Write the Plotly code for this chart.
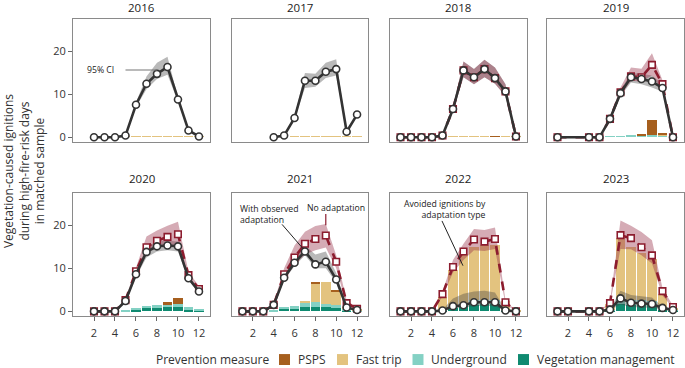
import plotly.graph_objects as go

W, H = 685, 368
FONT = "Open Sans"

# ---------------- data ----------------
years = [2016, 2017, 2018, 2019, 2020, 2021, 2022, 2023]
month_ticks = [2, 4, 6, 8, 10, 12]

# 2016
months_2016 = [2, 3, 4, 5, 6, 7, 8, 9, 10, 11, 12]
obs_2016 = [0, 0, 0, 0.4, 7.6, 12.5, 14.8, 16.4, 8.8, 1.6, 0.2]
obs_hi_2016 = [0, 0, 0, 0.5, 8.2, 14.2, 17.4, 18.8, 9.3, 1.8, 0.3]
obs_lo_2016 = [0, 0, 0, 0.3, 7.0, 11.2, 13.6, 14.6, 8.3, 1.4, 0.1]
bar_months_2016 = [5, 6, 7, 8, 9, 10, 11, 12]
veg_2016 = [0, 0, 0, 0, 0, 0, 0, 0]
ug_2016 = [0, 0, 0, 0, 0, 0, 0, 0]
fast_2016 = [0.12, 0.12, 0.12, 0.12, 0.12, 0.12, 0.12, 0.12]
psps_2016 = [0, 0, 0, 0, 0, 0, 0, 0]

# 2017
months_2017 = [4, 5, 6, 7, 8, 9, 10, 11, 12]
obs_2017 = [0, 0.4, 4.5, 13.2, 13.2, 15.3, 15.9, 1.3, 5.3]
obs_hi_2017 = [0, 0.5, 4.8, 15.0, 14.8, 17.4, 18.2, 1.5, 5.6]
obs_lo_2017 = [0, 0.3, 4.2, 11.5, 11.8, 13.8, 14.4, 1.1, 5.0]
bar_months_2017 = [6, 7, 8, 9, 10, 11, 12]
veg_2017 = [0, 0, 0, 0, 0, 0, 0]
ug_2017 = [0, 0, 0, 0, 0, 0, 0]
fast_2017 = [0.12, 0.12, 0.12, 0.12, 0.12, 0.12, 0.12]
psps_2017 = [0, 0, 0, 0, 0, 0, 0]

# 2018
months_2018 = [1, 2, 3, 4, 5, 6, 7, 8, 9, 10, 11, 12]
obs_2018 = [0, 0, 0, 0, 0.4, 6.6, 15.6, 14.0, 15.9, 13.8, 10.7, 0.2]
obs_hi_2018 = [0, 0, 0, 0, 0.5, 7.2, 17.7, 15.9, 18.1, 16.3, 12.4, 0.3]
obs_lo_2018 = [0, 0, 0, 0, 0.3, 6.0, 14.0, 12.4, 14.0, 12.5, 9.6, 0.1]
noad_2018 = [0, 0, 0, 0, 0.4, 6.6, 15.6, 14.0, 15.9, 13.8, 10.7, 0.2]
noad_hi_2018 = [0, 0, 0, 0, 0.5, 7.2, 17.7, 15.9, 18.1, 16.3, 12.4, 0.3]
noad_lo_2018 = [0, 0, 0, 0, 0.3, 6.0, 14.0, 12.4, 14.0, 12.5, 9.6, 0.1]
bar_months_2018 = [6, 7, 8, 9, 10, 11, 12]
veg_2018 = [0, 0, 0, 0, 0, 0, 0]
ug_2018 = [0, 0, 0, 0, 0, 0, 0]
fast_2018 = [0.12, 0.12, 0.12, 0.12, 0, 0.12, 0.12]
psps_2018 = [0, 0, 0, 0, 0.15, 0, 0]

# 2019
months_2019 = [1, 4, 5, 6, 7, 8, 9, 10, 11, 12]
obs_2019 = [0, 0, 0, 4.3, 10.3, 14.0, 13.6, 13.0, 11.5, 0]
obs_hi_2019 = [0, 0, 0, 4.6, 11.0, 15.0, 14.8, 14.4, 12.4, 0]
obs_lo_2019 = [0, 0, 0, 4.0, 9.6, 12.8, 12.4, 11.6, 10.6, 0]
noad_2019 = [0, 0, 0, 4.3, 10.5, 14.2, 14.0, 16.9, 12.4, 0]
noad_hi_2019 = [0, 0, 0, 4.7, 11.6, 16.3, 16.0, 19.6, 13.3, 0]
noad_lo_2019 = [0, 0, 0, 4.0, 9.8, 13.2, 13.0, 14.4, 10.8, 0]
bar_months_2019 = [6, 7, 8, 9, 10, 11]
veg_2019 = [0, 0.05, 0.05, 0.1, 0.15, 0.1]
ug_2019 = [0.1, 0.15, 0.2, 0.25, 0.45, 0.3]
fast_2019 = [0, 0, 0, 0, 0, 0.05]
psps_2019 = [0, 0, 0, 0.15, 3.4, 0.25]

# 2020
months_2020 = [2, 3, 4, 5, 6, 7, 8, 9, 10, 11, 12]
obs_2020 = [0, 0, 0, 2.4, 8.6, 13.8, 15.1, 15.3, 15.1, 7.7, 4.6]
obs_hi_2020 = [0, 0, 0, 2.7, 9.2, 14.8, 16.3, 16.4, 16.2, 8.2, 5.0]
obs_lo_2020 = [0, 0, 0, 2.1, 8.0, 12.5, 13.9, 14.2, 13.9, 7.2, 4.2]
noad_2020 = [0, 0, 0, 2.6, 9.3, 14.9, 16.4, 17.3, 17.9, 8.4, 5.2]
noad_hi_2020 = [0, 0, 0, 2.9, 10.0, 17.4, 18.8, 19.9, 20.8, 9.2, 5.8]
noad_lo_2020 = [0, 0, 0, 2.3, 8.6, 13.6, 14.9, 15.5, 15.3, 7.6, 4.6]
bar_months_2020 = [5, 6, 7, 8, 9, 10, 11, 12]
veg_2020 = [0.05, 0.4, 0.7, 0.8, 1.1, 1.05, 0.4, 0.3]
ug_2020 = [0.15, 0.35, 0.6, 0.7, 0.4, 0.7, 0.5, 0.3]
fast_2020 = [0, 0, 0, 0, 0, 0, 0, 0]
psps_2020 = [0, 0, 0, 0, 0.6, 1.3, 0, 0]

# 2021
months_2021 = [1, 2, 3, 4, 5, 6, 7, 8, 9, 10, 11, 12]
obs_2021 = [0, 0, 0, 1.5, 7.8, 11.3, 13.9, 10.9, 11.5, 7.4, 0.9, 0.3]
obs_hi_2021 = [0, 0, 0, 1.7, 8.3, 12.3, 15.3, 13.2, 13.9, 8.9, 1.1, 0.4]
obs_lo_2021 = [0, 0, 0, 1.3, 7.3, 10.5, 13.0, 10.0, 10.0, 6.7, 0.7, 0.2]
noad_2021 = [0, 0, 0, 1.5, 8.6, 12.5, 15.7, 16.8, 17.6, 11.5, 1.9, 0.6]
noad_hi_2021 = [0, 0, 0, 1.9, 10.0, 15.3, 18.5, 19.8, 20.3, 13.0, 2.5, 0.9]
noad_lo_2021 = [0, 0, 0, 1.3, 7.2, 10.8, 13.2, 14.2, 14.8, 10.0, 1.4, 0.4]
bar_months_2021 = [4, 5, 6, 7, 8, 9, 10, 11, 12]
veg_2021 = [0.05, 0.5, 0.6, 0.9, 0.9, 0.9, 0.7, 0.2, 0]
ug_2021 = [0.1, 0.5, 0.7, 1.1, 1.2, 0.8, 0.7, 0.4, 0.1]
fast_2021 = [0, 0, 0, 0.4, 4.3, 5.2, 3.3, 0.2, 0.3]
psps_2021 = [0, 0, 0, 0, 0.3, 0, 0.2, 0, 0]

# 2022
months_2022 = [1, 2, 3, 4, 5, 6, 7, 8, 9, 10, 11, 12]
obs_2022 = [0, 0, 0, 0, 0.2, 1.2, 1.4, 2.1, 2.1, 2.1, 0.2, 0]
obs_hi_2022 = [0, 0, 0, 0, 0.4, 3.0, 4.1, 4.6, 4.8, 4.4, 0.4, 0]
obs_lo_2022 = [0, 0, 0, 0, 0.1, 0.6, 0.9, 1.2, 1.3, 1.2, 0.1, 0]
noad_2022 = [0, 0, 0, 0, 4.0, 10.3, 13.9, 16.7, 16.2, 16.8, 2.1, 0]
noad_hi_2022 = [0, 0, 0, 0, 4.6, 11.9, 15.7, 19.1, 18.9, 19.5, 2.6, 0.1]
noad_lo_2022 = [0, 0, 0, 0, 3.4, 9.0, 11.9, 14.2, 14.0, 14.5, 1.6, 0]
bar_months_2022 = [5, 6, 7, 8, 9, 10, 11, 12]
veg_2022 = [0.1, 0.8, 1.2, 1.5, 1.6, 1.6, 0.1, 0]
ug_2022 = [0.1, 0.3, 0.6, 1.1, 1.1, 1.0, 0.1, 0]
fast_2022 = [3.2, 8.5, 11.6, 12.3, 12.8, 12.7, 2.1, 0.2]
psps_2022 = [0, 0, 0, 0, 0, 0, 0, 0]

# 2023
months_2023 = [1, 2, 4, 5, 6, 7, 8, 9, 10, 11, 12]
obs_2023 = [0, 0, 0, 0, 0.4, 3.0, 2.0, 1.8, 1.7, 0.8, 0.3]
obs_hi_2023 = [0, 0, 0, 0, 0.6, 4.8, 3.8, 3.5, 3.2, 1.2, 0.5]
obs_lo_2023 = [0, 0, 0, 0, 0.2, 1.6, 1.0, 0.9, 0.8, 0.4, 0.1]
noad_2023 = [0, 0, 0, 0, 1.9, 17.7, 17.0, 14.9, 13.0, 4.7, 1.0]
noad_hi_2023 = [0, 0, 0, 0, 2.2, 21.1, 19.9, 18.4, 16.5, 5.4, 1.3]
noad_lo_2023 = [0, 0, 0, 0, 1.6, 14.5, 14.4, 13.0, 11.1, 3.7, 0.7]
bar_months_2023 = [6, 7, 8, 9, 10, 11, 12]
veg_2023 = [0.2, 1.6, 1.5, 1.5, 1.5, 0.4, 0.1]
ug_2023 = [0.1, 1.3, 1.1, 1.1, 1.0, 0.3, 0.1]
fast_2023 = [1.4, 14.1, 12.4, 11.0, 9.6, 3.3, 0.6]
psps_2023 = [0, 0, 0, 0, 0, 0, 0]

measure_names = ["Vegetation management", "Underground", "Fast trip", "PSPS"]
legend_order = ["PSPS", "Fast trip", "Underground", "Vegetation management"]

# ---------------- styles ----------------
C_VEG = "#0f8a70"
C_UG = "#84d1c4"
C_FAST = "#e3c37f"
C_PSPS = "#a65f1e"
C_OBS = "#333333"
C_RED = "#8c1c2e"
BAND_GRAY = "rgba(60,60,60,0.36)"
BAND_RED = "rgba(150,45,70,0.40)"
measure_colors = {"Vegetation management": C_VEG, "Underground": C_UG,
                  "Fast trip": C_FAST, "PSPS": C_PSPS}

g = globals()
col_px = [(73, 210), (232, 368), (390, 527), (547, 684)]
row_px = [(19.5, 143), (194, 318)]
X_RANGE = [0, 13.05]
Y_RANGE = [-1.15, 27.5]

fig = go.Figure()
layout = dict(
    width=W, height=H, margin=dict(l=0, r=0, t=0, b=0),
    paper_bgcolor="white", plot_bgcolor="white",
    barmode="stack", showlegend=False,
    font=dict(family=FONT, size=11, color="#333333"),
)
annotations = []
shapes = []

for i, yr in enumerate(years):
    r, c = divmod(i, 4)
    sfx = "" if i == 0 else str(i + 1)
    xa, ya = "x" + sfx, "y" + sfx
    x0, x1 = col_px[c]
    y0, y1 = row_px[r]
    layout["xaxis" + sfx] = dict(
        domain=[x0 / W, x1 / W], range=X_RANGE, anchor=ya,
        showline=True, mirror=True, linecolor="#8a8a8a", linewidth=1,
        showgrid=False, zeroline=False,
        tickvals=month_ticks if r == 1 else [],
        ticks="outside" if r == 1 else "", ticklen=4, tickcolor="#666",
        ticklabelstandoff=3,
        tickfont=dict(size=11, color="#333"),
    )
    layout["yaxis" + sfx] = dict(
        domain=[1 - y1 / H, 1 - y0 / H], range=Y_RANGE, anchor=xa,
        showline=True, mirror=True, linecolor="#8a8a8a", linewidth=1,
        showgrid=False, zeroline=False,
        tickvals=[0, 10, 20] if c == 0 else [],
        ticks="outside" if c == 0 else "", ticklen=4, tickcolor="#666",
        tickfont=dict(size=11, color="#333"),
    )
    annotations.append(dict(
        text=str(yr), x=(x0 + x1) / 2 / W, y=1 - (8 if r == 0 else 179) / H,
        xref="paper", yref="paper", xanchor="center", yanchor="middle",
        showarrow=False, borderpad=0, font=dict(size=11.5, color="#222")))

    months = g[f"months_{yr}"]
    bm = g[f"bar_months_{yr}"]
    # stacked bars
    for name, arr in zip(measure_names, [g[f"veg_{yr}"], g[f"ug_{yr}"],
                                         g[f"fast_{yr}"], g[f"psps_{yr}"]]):
        fig.add_trace(go.Bar(x=bm, y=arr, width=0.92, name=name,
                             marker=dict(color=measure_colors[name], line=dict(width=0)),
                             xaxis=xa, yaxis=ya, hoverinfo="skip"))
    # confidence bands
    hi, lo = g[f"obs_hi_{yr}"], g[f"obs_lo_{yr}"]
    fig.add_trace(go.Scatter(x=months + months[::-1], y=hi + lo[::-1], fill="toself",
                             fillcolor=BAND_GRAY, mode="lines", line=dict(width=0),
                             xaxis=xa, yaxis=ya, hoverinfo="skip"))
    has_noad = f"noad_{yr}" in g
    if has_noad:
        hi, lo = g[f"noad_hi_{yr}"], g[f"noad_lo_{yr}"]
        fig.add_trace(go.Scatter(x=months + months[::-1], y=hi + lo[::-1], fill="toself",
                                 fillcolor=BAND_RED, mode="lines", line=dict(width=0),
                                 xaxis=xa, yaxis=ya, hoverinfo="skip"))
        fig.add_trace(go.Scatter(x=months, y=g[f"noad_{yr}"], mode="lines+markers",
                                 name="No adaptation",
                                 line=dict(color=C_RED, width=2.6, dash="dash"),
                                 marker=dict(symbol="square", size=6.5, color="white",
                                             line=dict(color=C_RED, width=1.6)),
                                 xaxis=xa, yaxis=ya))
    fig.add_trace(go.Scatter(x=months, y=g[f"obs_{yr}"], mode="lines+markers",
                             name="With observed adaptation",
                             line=dict(color=C_OBS, width=2.6),
                             marker=dict(symbol="circle", size=7, color="white",
                                         line=dict(color=C_OBS, width=1.6)),
                             xaxis=xa, yaxis=ya))

# ---------------- text annotations ----------------
AF = dict(size=8.7, color="#222")
# 2016: 95% CI
annotations.append(dict(text="95% CI", x=4.1, y=15.7, xref="x", yref="y",
                        xanchor="right", yanchor="middle", showarrow=False, font=AF))
shapes.append(dict(type="line", xref="x", yref="y", x0=5.0, x1=8.0, y0=15.7, y1=15.7,
                   line=dict(color="#777", width=1.2)))
# 2021
annotations.append(dict(text="With observed<br>adaptation", x=0.6, y=22.4, xref="x6",
                        yref="y6", xanchor="left", yanchor="middle", align="left",
                        showarrow=False, font=AF))
shapes.append(dict(type="line", xref="x6", yref="y6", x0=4.8, x1=6.8, y0=20.2, y1=14.6,
                   line=dict(color="#222", width=1)))
annotations.append(dict(text="No adaptation", x=7.0, y=24.0, xref="x6", yref="y6",
                        xanchor="left", yanchor="middle", showarrow=False, font=AF))
shapes.append(dict(type="line", xref="x6", yref="y6", x0=9.0, x1=9.0, y0=22.6, y1=20.0,
                   line=dict(color=C_RED, width=1.2)))
# 2022
annotations.append(dict(text="Avoided ignitions by<br>adaptation type", x=9.35, y=23.7,
                        xref="x7", yref="y7", xanchor="right", yanchor="middle",
                        align="right", showarrow=False, font=AF))
shapes.append(dict(type="line", xref="x7", yref="y7", x0=4.95, x1=6.95, y0=21.0, y1=10.6,
                   line=dict(color="#222", width=1)))

# y-axis title
annotations.append(dict(
    text="Vegetation-caused ignitions<br>during high-fire-risk days<br>in matched sample",
    x=24 / W, y=1 - 172 / H, xref="paper", yref="paper", xanchor="center",
    yanchor="middle", textangle=-90, showarrow=False, borderpad=0,
    font=dict(size=12, color="#333")))

# ---------------- legend (manual) ----------------
LY = 1 - 361.5 / H
annotations.append(dict(text="Prevention measure", x=271 / W, y=LY, xref="paper",
                        yref="paper", xanchor="right", yanchor="middle",
                        showarrow=False, font=dict(size=12, color="#333")))
leg_sq = [279, 337, 412.5, 518]
for name, sx in zip(legend_order, leg_sq):
    shapes.append(dict(type="rect", xref="paper", yref="paper",
                       x0=sx / W, x1=(sx + 11) / W,
                       y0=1 - 367 / H, y1=1 - 356 / H,
                       fillcolor=measure_colors[name], line=dict(width=0)))
    annotations.append(dict(text=name, x=(sx + 16.5) / W, y=LY, xref="paper",
                            yref="paper", xanchor="left", yanchor="middle",
                            showarrow=False, font=dict(size=12, color="#333")))

layout["annotations"] = annotations
layout["shapes"] = shapes
fig.update_layout(**layout)
fig.write_html("out.html", config={"displayModeBar": False},
               post_script="document.body.style.margin='0px';document.body.style.padding='0px';")
